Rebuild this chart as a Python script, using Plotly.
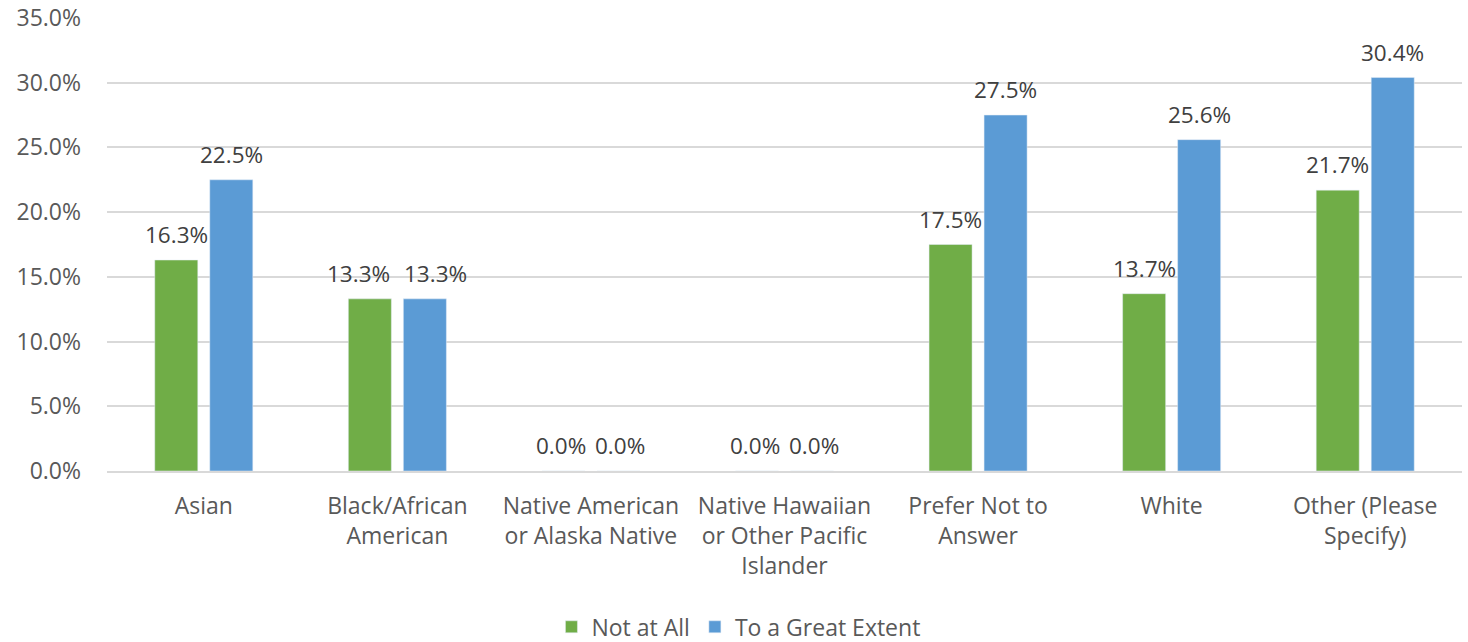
import plotly.graph_objects as go

categories = ["Asian", "Black/African<br>American", "Native American<br>or Alaska Native",
              "Native Hawaiian<br>or Other Pacific<br>Islander", "Prefer Not to<br>Answer",
              "White", "Other (Please<br>Specify)"]
not_at_all = [16.3, 13.3, 0.0, 0.0, 17.5, 13.7, 21.7]
great_extent = [22.5, 13.3, 0.0, 0.0, 27.5, 25.6, 30.4]
y_ticks = [0, 5, 10, 15, 20, 25, 30, 35]

GREEN = "#70AD47"
BLUE = "#5B9BD5"
FONT = "Open Sans"
AX_COLOR = "#595959"
LBL_COLOR = "#404040"

fig = go.Figure()
fig.add_trace(go.Bar(x=categories, y=not_at_all, name="Not at All", marker_color=GREEN))
fig.add_trace(go.Bar(x=categories, y=great_extent, name="To a Great Extent", marker_color=BLUE))

annotations = []
for c, a, b in zip(categories, not_at_all, great_extent):
    # labels at equal heights are pushed apart so they do not collide
    extra = 11 if (abs(a - b) < 1.5 and a > 0) else (2 if a == b else 0)
    for v, sign in ((a, -1), (b, 1)):
        annotations.append(dict(x=c, y=v, xref="x", yref="y", text=f"{v:.1f}%",
                                showarrow=False, xshift=sign * (27.5 + extra), yshift=8,
                                yanchor="bottom",
                                font=dict(family=FONT, size=22.5, color=LBL_COLOR)))

fig.update_layout(
    width=1468, height=642,
    margin=dict(l=107, r=6, t=18, b=171, autoexpand=False),
    paper_bgcolor="white", plot_bgcolor="white",
    barmode="group", bargap=0.4315, bargroupgap=0.218,
    font=dict(family=FONT, size=23, color=AX_COLOR),
    showlegend=True,
    legend=dict(orientation="h", x=0.328, xanchor="left", y=-0.344, yanchor="middle",
                font=dict(family=FONT, size=23, color=AX_COLOR), itemwidth=30,
                tracegroupgap=0),
    annotations=annotations,
)
fig.update_yaxes(range=[0, 35], tickvals=y_ticks, ticktext=[f"{t:.1f}%" for t in y_ticks],
                 showgrid=True, gridcolor="#D9D9D9", gridwidth=1.5, zeroline=False,
                 showline=False, ticklabelstandoff=25, automargin=False,
                 ticklabeloverflow="allow",
                 tickfont=dict(family=FONT, size=23, color=AX_COLOR))
fig.update_xaxes(showline=True, linecolor="#D9D9D9", linewidth=1.5, ticks="", automargin=False,
                 ticklabeloverflow="allow",
                 tickfont=dict(family=FONT, size=23, color=AX_COLOR), ticklabelstandoff=14)

fig.write_html("out.html", config={"displayModeBar": False},
               post_script="document.body.style.margin='0';document.body.style.overflow='hidden';")
